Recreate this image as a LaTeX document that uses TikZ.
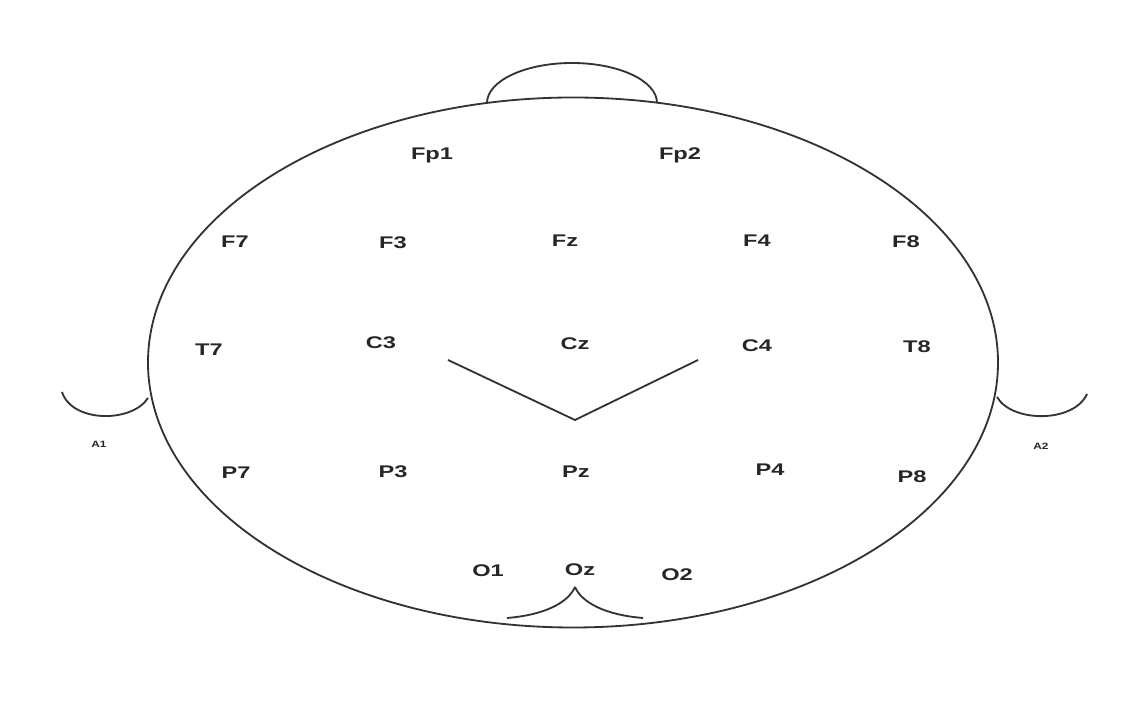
\documentclass[tikz,border=0pt]{standalone}
\usepackage{fontspec}
\setmainfont{Liberation Sans}
\usetikzlibrary{positioning}

\begin{document}
\begin{tikzpicture}[
    line/.style={draw=black!80, line width=1.3pt},
    electrode/.style={font=\fontsize{12}{12}\selectfont\bfseries, text=black!85, xscale=1.4, transform shape, inner sep=0pt},
    earlabel/.style={font=\fontsize{6.5}{6.5}\selectfont\bfseries, text=black!85, xscale=1.3, transform shape, inner sep=0pt}
]
    \useasboundingbox[fill=white] (0,0) rectangle (28.35,17.875);

    % head, nose and ears
    \draw[line] (14.325,8.8125) ellipse [x radius=10.625, y radius=6.625];
    \draw[line] (12.175,15.3) arc [start angle=180, end angle=0, x radius=2.125, y radius=1.0];
    \draw[line] (1.55,8.075) .. controls (1.8,7.3) and (3.3,7.3) .. (3.7,7.925);
    \draw[line] (24.925,7.95) .. controls (25.3,7.3) and (26.85,7.3) .. (27.175,8.025);

    % electrodes
    \node[electrode] (fp1) at (10.8,14.0) {Fp1};
    \node[electrode] (fp2) at (17.0,14.0) {Fp2};
    \node[electrode] (f7) at (5.875,11.825) {F7};
    \node[electrode] (f3) at (9.825,11.8) {F3};
    \node[electrode] (fz) at (14.125,11.85) {Fz};
    \node[electrode] (f4) at (18.925,11.85) {F4};
    \node[electrode] (f8) at (22.65,11.825) {F8};
    \node[electrode] (t7) at (5.225,9.125) {T7};
    \node[electrode] (c3) at (9.525,9.3) {C3};
    \node[electrode] (cz) at (14.375,9.275) {Cz};
    \node[electrode] (c4) at (18.925,9.225) {C4};
    \node[electrode] (t8) at (22.925,9.2) {T8};
    \node[electrode] (p7) at (5.9,6.05) {P7};
    \node[electrode] (p3) at (9.825,6.075) {P3};
    \node[electrode] (pz) at (14.4,6.075) {Pz};
    \node[electrode] (p4) at (19.25,6.125) {P4};
    \node[electrode] (p8) at (22.8,5.95) {P8};
    \node[electrode] (o1) at (12.2,3.6) {O1};
    \node[electrode] (oz) at (14.5,3.625) {Oz};
    \node[electrode] (o2) at (16.925,3.5) {O2};
    \node[earlabel] (a1) at (2.475,6.775) {A1};
    \node[earlabel] (a2) at (26.025,6.725) {A2};

    % V below Cz
    \coordinate (vleft) at (11.2,8.875);
    \coordinate (vtip) at (14.375,7.375);
    \coordinate (vright) at (17.45,8.875);
    \draw[line] (vleft) -- (vtip) -- (vright);

    % bracket under Oz
    \coordinate (otip) at (14.375,3.2);
    \coordinate (oleft) at (12.675,2.425);
    \coordinate (oright) at (16.075,2.425);
    \draw[line] (oleft) .. controls (13.6,2.5) and (14.2,2.8) .. (otip);
    \draw[line] (oright) .. controls (15.15,2.5) and (14.55,2.8) .. (otip);
\end{tikzpicture}
\end{document}
